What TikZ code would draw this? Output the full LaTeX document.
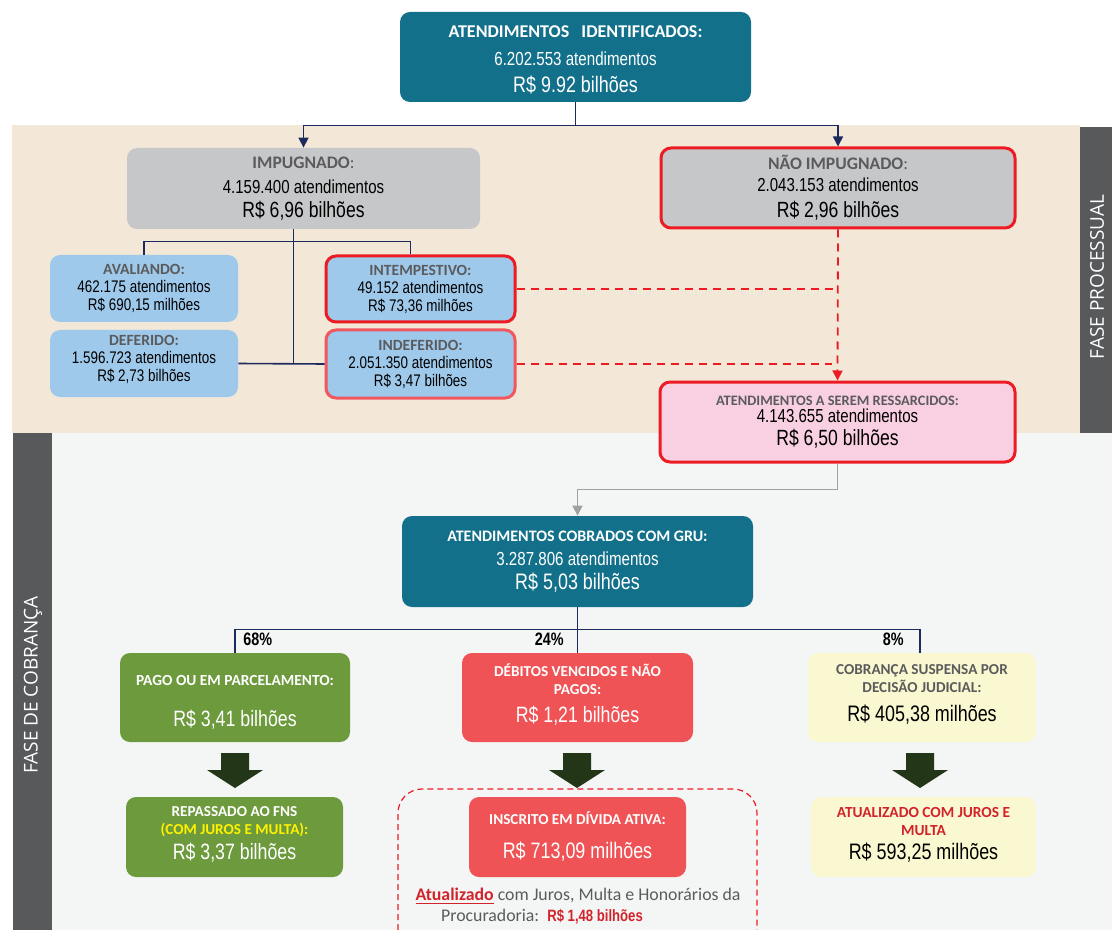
\documentclass[tikz,border=0pt]{standalone}
\usepackage{fontspec}
\setmainfont{Liberation Sans}[FakeStretch=0.8]
\newfontfamily\headfont{Carlito}
\newfontfamily\barfont{Open Sans}
\usetikzlibrary{arrows.meta}

\definecolor{tealbox}{HTML}{12708A}
\definecolor{navyline}{HTML}{1E2A5E}
\definecolor{beigebg}{HTML}{F3E7D8}
\definecolor{lightbg}{HTML}{F4F6F6}
\definecolor{bargray}{HTML}{58595B}
\definecolor{graybox}{HTML}{C6C7C9}
\definecolor{redline}{HTML}{ED1C24}
\definecolor{redsoft}{HTML}{F0575E}
\definecolor{bluebox}{HTML}{9FC9EB}
\definecolor{pinkbox}{HTML}{F9D0E2}
\definecolor{greenbox}{HTML}{6D9A3D}
\definecolor{redbox}{HTML}{EF5356}
\definecolor{yellowbox}{HTML}{FAF8D0}
\definecolor{darkarrow}{HTML}{243618}
\definecolor{headgray}{HTML}{5B5B5D}
\definecolor{yellowtxt}{HTML}{FFF200}
\definecolor{redtxt}{HTML}{D2232A}
\definecolor{grayarrow}{HTML}{A0A0A0}

\newcommand\hdfont[1]{\headfont\bfseries\fontsize{#1}{#1}\selectfont}
\newcommand\bodyfont[1]{\fontsize{#1}{#1}\selectfont}

\begin{document}
\begin{tikzpicture}[x=0.5pt,y=-0.5pt,
	box/.style={rounded corners=5pt, align=center, inner sep=0pt, font=\fontsize{8}{11}\selectfont},
	tealnode/.style={box, fill=tealbox, text=white},
	graynode/.style={box, fill=graybox},
	bluenode/.style={box, fill=bluebox},
	greennode/.style={box, fill=greenbox, text=white},
	rednode/.style={box, fill=redbox, text=white},
	yellownode/.style={box, fill=yellowbox},
	redborder/.style={draw=redline, line width=1.5pt},
	navy/.style={draw=navyline, line width=0.8pt},
	reddash/.style={draw=redline, line width=0.9pt, dash pattern=on 4pt off 3pt},
	barlabel/.style={text=white, font=\barfont\fontsize{9.5}{11}\selectfont},
	pct/.style={font=\bfseries\fontsize{9}{10}\selectfont, inner sep=0pt},
	tip/.style={-{Triangle[width=5pt,length=5pt]}}
	]
	\useasboundingbox (0,0) rectangle (1112,930);
	
	\fill[beigebg] (12,125) rectangle (1080,433);
	\fill[lightbg] (52,433) rectangle (1112,930);
	\fill[bargray] (1080,127) rectangle (1112,433);
	\fill[bargray] (13,433) rectangle (52,930);
	\node (fproc) [barlabel, rotate=90] at (1097,277) {FASE PROCESSUAL};
	\node (fcobr) [barlabel, rotate=90] at (33,685) {FASE DE COBRANÇA};
	
	\node (ident) [tealnode, minimum width=175.5pt, minimum height=45pt] at (575.5,57)
	{{\hdfont{9}\rule{0pt}{9pt}ATENDIMENTOS\ \ \ IDENTIFICADOS:}\\[3pt]{\bodyfont{9.45}6.202.553 atendimentos}\\[2.5pt]{\bodyfont{11.2}R\$ 9.92 bilhões}};
	
	\node (imp) [graynode, minimum width=176.5pt, minimum height=40.5pt] at (303.5,188.5)
	{{\hdfont{8.8}\color{headgray}IMPUGNADO\mdseries:}\\[1.5pt]{\bodyfont{9.4}4.159.400 atendimentos}\\[1pt]{\bodyfont{11}R\$ 6,96 bilhões}};
	\node (nimp) [graynode, redborder, minimum width=177pt, minimum height=40pt] at (838,188)
	{{\hdfont{8.8}\color{headgray}NÃO IMPUGNADO\mdseries:}\\{\bodyfont{9.4}2.043.153 atendimentos}\\[2pt]{\bodyfont{11}R\$ 2,96 bilhões}};
	
	\node (aval) [bluenode, minimum width=94pt, minimum height=33.5pt] at (144,288.5)
	{{\hdfont{7.8}\color{headgray}AVALIANDO:}\\[-2pt]{\bodyfont{8.4}462.175 atendimentos}\\[-2pt]{\bodyfont{8.4}R\$ 690,15 milhões}};
	\node (defer) [bluenode, minimum width=94pt, minimum height=33.5pt] at (144,363.5)
	{{\hdfont{7.8}\color{headgray}DEFERIDO:}\\[-2pt]{\bodyfont{8.4}1.596.723 atendimentos}\\[-2pt]{\bodyfont{8.4}R\$ 2,73 bilhões\rule[-5pt]{0pt}{0pt}}};
	\node (intemp) [bluenode, redborder, minimum width=94.5pt, minimum height=33pt] at (420.5,289)
	{{\hdfont{7.8}\color{headgray}INTEMPESTIVO:}\\[-2pt]{\bodyfont{8.4}49.152 atendimentos}\\[-2pt]{\bodyfont{8.4}R\$ 73,36 milhões}};
	\node (indef) [bluenode, redborder, draw=redsoft, minimum width=94.5pt, minimum height=34pt] at (420.5,364)
	{{\hdfont{7.8}\color{headgray}INDEFERIDO:}\\[-2pt]{\bodyfont{8.4}2.051.350 atendimentos}\\[-2pt]{\bodyfont{8.4}R\$ 3,47 bilhões}};
	
	\node (ress) [box, fill=pinkbox, redborder, minimum width=177.5pt, minimum height=40pt] at (837.5,422)
	{{\hdfont{7.2}\color{headgray}ATENDIMENTOS A SEREM RESSARCIDOS:}\\[-2.5pt]{\bodyfont{9.4}4.143.655 atendimentos}\\[0.5pt]{\bodyfont{11}R\$ 6,50 bilhões}};
	
	\node (gru) [tealnode, minimum width=175.5pt, minimum height=45.5pt] at (577.5,561.5)
	{{\hdfont{8}ATENDIMENTOS COBRADOS COM GRU:}\\[1pt]{\bodyfont{9.45}3.287.806 atendimentos}\\[1pt]{\bodyfont{11.2}R\$ 5,03 bilhões}};
	
	\node (pago) [greennode, minimum width=115pt, minimum height=44.5pt] at (235,697.5)
	{{\hdfont{7.7}\rule{0pt}{10pt}PAGO OU EM PARCELAMENTO:}\\[9.5pt]{\bodyfont{11.1}R\$ 3,41 bilhões}};
	\node (debit) [rednode, minimum width=115.5pt, minimum height=44.5pt] at (577.5,697.5)
	{{\hdfont{7.6}DÉBITOS VENCIDOS E NÃO}\\[-2pt]{\hdfont{7.6}PAGOS:}\\[3pt]{\bodyfont{11.1}R\$ 1,21 bilhões\rule[-4pt]{0pt}{0pt}}};
	\node (susp) [yellownode, minimum width=114pt, minimum height=44.5pt] at (922,697.5)
	{{\hdfont{7.6}\color{headgray}COBRANÇA SUSPENSA POR}\\[-2pt]{\hdfont{7.6}\color{headgray}DECISÃO JUDICIAL:}\\[3.5pt]{\bodyfont{11.2}R\$ 405,38 milhões\rule[-4pt]{0pt}{0pt}}};
	
	\node (repass) [greennode, minimum width=108.5pt, minimum height=40pt] at (234.5,837)
	{{\hdfont{7.6}REPASSADO AO FNS}\\[-2pt]{\hdfont{7.6}\color{yellowtxt}(COM JUROS E MULTA):}\\[1.2pt]{\bodyfont{11.1}R\$ 3,37 bilhões\rule[-4pt]{0pt}{0pt}}};
	\node (inscr) [rednode, minimum width=108.5pt, minimum height=40pt] at (577.5,837)
	{{\hdfont{7.6}INSCRITO EM DÍVIDA ATIVA:}\\[6pt]{\bodyfont{11.2}R\$ 713,09 milhões}};
	\node (atual) [yellownode, minimum width=112.5pt, minimum height=40pt] at (923.5,837)
	{{\hdfont{7.7}\color{redtxt}ATUALIZADO COM JUROS E}\\[-2pt]{\hdfont{7.7}\color{redtxt}MULTA}\\[1pt]{\bodyfont{11.2}R\$ 593,25 milhões\rule[-4pt]{0pt}{0pt}}};
	
	\node (note) [align=center, inner sep=0pt, font=\headfont\fontsize{8.9}{10.5}\selectfont, text=headgray] at (578,906)
	{{\bfseries\color{redtxt}\underline{Atualizado}} com Juros, Multa e Honorários da\\Procuradoria:\ \ {\fontspec{Liberation Sans}[FakeStretch=0.8]\bfseries\color{redtxt}\fontsize{8.2}{9}\selectfont R\$ 1,48 bilhões}\hspace*{36pt}};
	\draw[draw=redline, line width=0.6pt, dash pattern=on 3pt off 2pt, rounded corners=12pt] (398,940) |- (757,789) -- (757,940);
	
	\node (p68) [pct, anchor=west] at (243,639) {68\%};
	\node (p24) [pct, anchor=east] at (564,639) {24\%};
	\node (p8) [pct, anchor=east] at (904,639) {8\%};
	
	\draw[navy] (ident.south) -- ++(0,23) coordinate (split);
	\draw[navy, tip] (split) -| (imp.north);
	\draw[navy, tip] (split) -| (nimp.north);
	
	\draw[navy] (aval.north) -- ++(0,-13) -| ([xshift=-5pt]intemp.north);
	\draw[navy] ([xshift=-5pt]imp.south) -- ([xshift=-5pt]imp.south |- defer.east);
	\draw[navy] (defer.east) -- (indef.west);
	
	\draw[reddash] (intemp.east) -- (intemp.east -| nimp.south);
	\draw[reddash, shorten >=3pt] (indef.east) -- (indef.east -| nimp.south);
	\draw[reddash, tip] (nimp.south) -- (ress.north);
	
	\draw[draw=grayarrow, line width=0.8pt, tip] (ress.south) -- ++(0,26) -| (gru.north);
	
	\draw[navy] (gru.south) -- (debit.north);
	\draw[navy] (pago.north) -- ++(0,-23) -| ([xshift=-1pt]susp.north);
	
	\foreach \x in {235,577,920}
	\fill[darkarrow] (\x-14,753) -- (\x+14,753) -- (\x+14,770) -- (\x+28,770) -- (\x,788) -- (\x-28,770) -- (\x-14,770) -- cycle;
	
\end{tikzpicture}
\end{document}
